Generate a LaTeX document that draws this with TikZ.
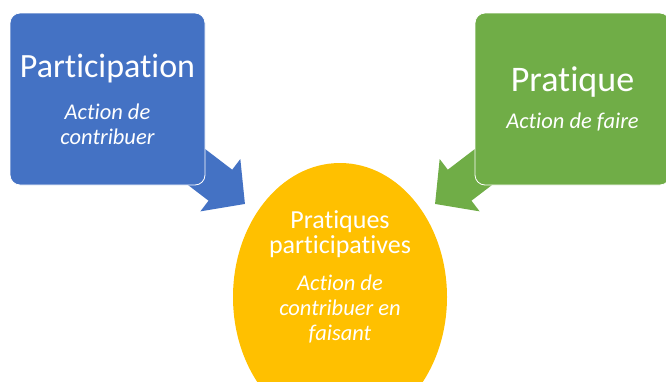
\documentclass[tikz,border=0pt]{standalone}
\usepackage{fontspec}
\setmainfont{Carlito}[Ligatures={TeX,NoCommon}]
\usetikzlibrary{arrows.meta, shapes.geometric}
\pgfdeclarelayer{back}
\pgfsetlayers{back,main}
\definecolor{partblue}{HTML}{4472C4}
\definecolor{pratgreen}{HTML}{70AD47}
\definecolor{ppyellow}{HTML}{FFC000}
\newcommand\titlesize[1]{\fontsize{#1}{#1}\selectfont\upshape}
\newcommand\notesize{\fontsize{22.5}{25}\selectfont\itshape}

\begin{document}
\begin{tikzpicture}[x = 1pt, y = -1pt,
    card/.style = {rectangle, rounded corners = 10pt, draw = white, line width = 0.8pt,
                   minimum width = 195pt, minimum height = 172pt, text = white, align = center,
                   font = \notesize},
    disc/.style = {ellipse, fill = ppyellow, minimum width = 214pt, minimum height = 268pt},
    flow/.style = {line width = 39pt, -{Triangle[length = 31pt, width = 64pt]}}]
  \useasboundingbox (0,0) rectangle (666,381);
  \clip (0,0) rectangle (666,381);
  \node[card, fill = partblue]  (part) at (107.5,99) {{\titlesize{34}Participation}\\[17pt]Action de\\contribuer};
  \node[card, fill = pratgreen] (prat) at (572.5,99) {{\titlesize{36}Pratique}\\[12pt]Action de faire};
  \node[disc] (pp) at (340,297) {};
  \node[text = white, align = center, font = \notesize] (pptext) at (340,277)
    {{\titlesize{26}Pratiques}\\{\titlesize{26}participatives}\\[12pt]Action de\\contribuer en\\faisant};
  \coordinate (parttip) at (245,204);
  \coordinate (prattip) at (435,204);
  \begin{pgfonlayer}{back}
    \path[flow, partblue]  (part.center) edge (parttip);
    \path[flow, pratgreen] (prat.center) edge (prattip);
  \end{pgfonlayer}
\end{tikzpicture}
\end{document}
